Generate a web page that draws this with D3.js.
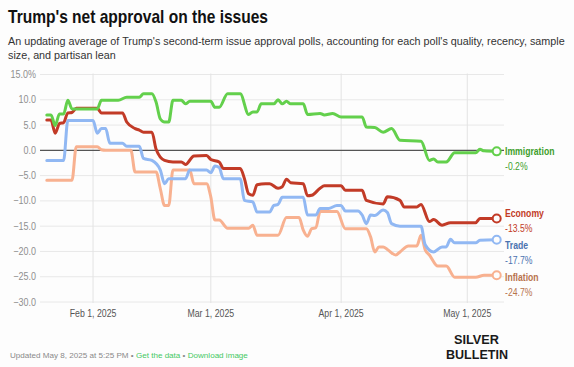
<!DOCTYPE html>
<html>
<head>
<meta charset="utf-8">
<script src="https://cdn.jsdelivr.net/npm/d3@7"></script>
<style>
  html, body { margin: 0; padding: 0; background: #fdfdfd; }
  svg { display: block; }
</style>
</head>
<body>
<svg id="chart" width="574" height="367"></svg>
<script>
// ---------- DATA ----------
const startDate = "2025-01-21"; // day offsets below count from this date
const seriesNames = ["Inflation", "Trade", "Economy", "Immigration"];
const immigration = [[0,7.0],[1,7.0],[2,4.9],[3,7.2],[4,7.2],[5,9.9],[6,8.2],[12,8.2],[13,9.9],[17,9.9],[19,10.5],[22,10.5],[23,11.2],[25,11.2],[26,9.5],[27,6.2],[28,5.6],[29,5.6],[30,9.9],[32,9.9],[33,9.2],[34,9.7],[39,9.7],[40,8.5],[41,8.5],[43,11.2],[46,11.2],[48,7.1],[49,7.6],[50,7.6],[51,9.2],[54,9.2],[55,10.0],[56,9.2],[57,9.7],[58,9.2],[61,9.2],[62,7.1],[65,7.3],[66,7.0],[68,7.3],[70,6.6],[75,6.6],[76,4.6],[78,4.5],[80,3.6],[82,4.3],[84,2.0],[89,1.8],[91,-2.0],[92,-1.7],[93,-2.3],[95,-2.3],[97,-0.5],[102,-0.5],[103,0.2],[104,-0.1],[107,-0.2]];
const economy = [[0,6.0],[1,6.0],[2,3.4],[3,5.3],[4,5.5],[5,7.4],[6,7.5],[7,8.3],[12,8.3],[13,7.4],[18,7.4],[19,5.6],[21,4.3],[22,4.0],[23,3.6],[25,3.6],[26,0.2],[28,-2.0],[30,-2.3],[32,-2.3],[33,-2.8],[35,-1.1],[38,-1.0],[39,-1.8],[41,-2.3],[42,-3.6],[46,-3.6],[47,-5.6],[48,-8.6],[49,-8.9],[50,-6.8],[52,-6.6],[53,-6.6],[55,-7.5],[56,-7.2],[57,-5.7],[58,-6.4],[61,-6.6],[62,-9.0],[63,-8.9],[65,-7.5],[66,-7.0],[70,-7.0],[71,-7.9],[75,-7.9],[76,-9.9],[80,-10.6],[81,-9.2],[84,-9.9],[85,-11.2],[88,-11.2],[89,-10.7],[91,-14.1],[92,-13.7],[94,-14.8],[96,-14.3],[102,-14.3],[103,-13.5],[107,-13.5]];
const trade = [[0,-2.0],[4,-2.0],[5,5.9],[11,5.9],[12,3.4],[13,4.3],[14,4.3],[15,1.4],[18,1.4],[19,0.8],[22,0.8],[23,-1.6],[25,-2.0],[27,-3.9],[28,-6.6],[29,-5.6],[33,-5.6],[34,-3.9],[38,-3.9],[39,-4.4],[40,-3.1],[41,-3.4],[42,-5.6],[46,-5.6],[47,-9.9],[49,-10.2],[50,-12.2],[53,-12.2],[54,-10.9],[55,-10.7],[56,-9.3],[61,-9.3],[62,-12.8],[64,-12.8],[65,-11.5],[67,-11.5],[69,-10.9],[70,-10.9],[71,-12.0],[74,-12.0],[75,-12.8],[76,-14.5],[77,-12.8],[78,-12.9],[80,-11.8],[81,-12.3],[82,-14.5],[84,-15.0],[89,-15.0],[90,-18.7],[92,-20.1],[94,-19.1],[95,-19.1],[96,-17.6],[97,-18.3],[102,-18.3],[103,-17.8],[107,-17.7]];
const inflation = [[0,-5.9],[6,-5.9],[7,0.7],[12,0.7],[13,0.1],[14,0.0],[20,0.0],[21,-4.3],[26,-4.3],[27,-7.6],[28,-10.9],[29,-10.9],[30,-3.9],[34,-3.9],[35,-6.6],[38,-6.6],[39,-9.2],[40,-13.8],[41,-13.8],[43,-15.4],[48,-15.4],[49,-14.8],[50,-16.8],[55,-16.8],[57,-13.3],[60,-13.3],[61,-15.8],[62,-17.0],[63,-15.5],[64,-15.3],[65,-12.1],[69,-12.1],[71,-15.5],[76,-15.5],[77,-17.1],[78,-20.1],[79,-19.1],[80,-19.1],[81,-19.6],[83,-20.7],[84,-20.1],[86,-18.9],[88,-18.9],[89,-16.8],[90,-19.7],[91,-20.7],[93,-22.9],[95,-22.9],[97,-25.1],[102,-25.1],[104,-24.7],[107,-24.7]];
const latestValues = ["-24.7%", "-17.7%", "-13.5%", "-0.2%"];
const yTicks = [15, 10, 5, 0, -5, -10, -15, -20, -25, -30];
const xTickDates = ["2025-02-01", "2025-03-01", "2025-04-01", "2025-05-01"];
const xTickLabels = ["Feb 1, 2025", "Mar 1, 2025", "Apr 1, 2025", "May 1, 2025"];
const endDate = "2025-05-08";
const footerParts = ["Updated May 8, 2025 at 5:25 PM", " \u2022 ", "Get the data", " \u2022 ", "Download image"];

// ---------- STYLE ----------
const lineColors = ["#f8b190", "#91b8f3", "#c23b27", "#63d04c"];
const labelColors = ["#b8734d", "#4b73b0", "#c23b27", "#3e9f2c"];
const footerColors = ["#8a8a8a", "#8a8a8a", "#45c964", "#8a8a8a", "#45c964"];
const font = "'Liberation Sans', Arial, Helvetica, sans-serif";

// compress text horizontally to mimic the narrow typeface of the original
function condense(sel, f) {
  sel.each(function () {
    const L = this.getComputedTextLength();
    d3.select(this).attr("textLength", L * f).attr("lengthAdjust", "spacingAndGlyphs");
  });
}
function fitWidth(sel, w) {
  sel.attr("textLength", w).attr("lengthAdjust", "spacingAndGlyphs");
}
// pick a font size so that the text's natural width equals w
function fitSize(sel, w) {
  const fs = parseFloat(sel.attr("font-size"));
  const L = sel.node().getComputedTextLength();
  const nfs = fs * w / L;
  sel.attr("font-size", nfs);
  return nfs;
}

const svg = d3.select("#chart");
const W = 574, H = 367;
svg.append("rect").attr("width", W).attr("height", H).attr("fill", "#fdfdfd");

const parse = d3.utcParse("%Y-%m-%d");
const t0 = parse(startDate);
const dayToDate = d => d3.utcDay.offset(t0, d);

const x = d3.scaleUtc().domain([t0, parse(endDate)]).range([46.8, 496.7]);
const y = d3.scaleLinear().domain([-30, 15]).range([302, 74.5]);
const gridLeft = 40, gridRight = 504;

// title & subtitle
const title = svg.append("text").attr("x", 8).attr("y", 23)
  .attr("font-family", font).attr("font-weight", "bold").attr("font-size", 18.5)
  .attr("fill", "#111").text("Trump's net approval on the issues");
fitWidth(title, 260);

const sub1 = svg.append("text").attr("x", 8).attr("y", 45)
  .attr("font-family", font).attr("font-size", 11).attr("fill", "#333")
  .text("An updating average of Trump's second-term issue approval polls, accounting for each poll's quality, recency, sample");
const subSize = fitSize(sub1, 557);
svg.append("text").attr("x", 8).attr("y", 59)
  .attr("font-family", font).attr("font-size", subSize).attr("fill", "#333")
  .text("size, and partisan lean");

// horizontal grid + y labels
const gy = svg.append("g");
gy.selectAll("line").data(yTicks.filter(v => v !== 0)).join("line")
  .attr("x1", gridLeft).attr("x2", gridRight)
  .attr("y1", d => y(d)).attr("y2", d => y(d))
  .attr("stroke", "#e8e8e8").attr("stroke-width", 1);
const yl = gy.selectAll("text").data(yTicks).join("text")
  .attr("x", 36).attr("y", d => y(d)).attr("dy", "0.35em")
  .attr("text-anchor", "end").attr("font-family", font).attr("font-size", 10.3)
  .attr("fill", "#8f8f8f")
  .text((d, i) => (d < 0 ? "\u2212" : "") + Math.abs(d).toFixed(1) + (i === 0 ? "%" : ""));
condense(yl, 0.87);

// vertical grid + x labels
const gx = svg.append("g");
gx.selectAll("line").data(xTickDates).join("line")
  .attr("x1", d => x(parse(d))).attr("x2", d => x(parse(d)))
  .attr("y1", y(15) - 1).attr("y2", y(-30) + 1)
  .attr("stroke", "#e3e3e3").attr("stroke-width", 1);
const xl = gx.selectAll("text").data(xTickDates).join("text")
  .attr("x", d => x(parse(d))).attr("y", 317)
  .attr("text-anchor", "middle").attr("font-family", font).attr("font-size", 10.3)
  .attr("fill", "#555")
  .text((d, i) => xTickLabels[i]);
condense(xl, 0.85);

// zero line
svg.append("line").attr("x1", gridLeft).attr("x2", gridRight)
  .attr("y1", y(0)).attr("y2", y(0)).attr("stroke", "#555").attr("stroke-width", 1.3);

// lines
const allSeries = [inflation, trade, economy, immigration];
const line = d3.line().x(d => x(dayToDate(d[0]))).y(d => y(d[1])).curve(d3.curveMonotoneX);
svg.append("g").selectAll("path").data(allSeries).join("path")
  .attr("d", line).attr("fill", "none")
  .attr("stroke", (d, i) => lineColors[i]).attr("stroke-width", 3)
  .attr("stroke-linejoin", "round").attr("stroke-linecap", "round");

// end markers
svg.append("g").selectAll("circle").data(allSeries).join("circle")
  .attr("cx", d => x(dayToDate(d[d.length - 1][0])))
  .attr("cy", d => y(d[d.length - 1][1]))
  .attr("r", 4).attr("fill", "#fdfdfd")
  .attr("stroke", (d, i) => lineColors[i]).attr("stroke-width", 2);

// end labels with simple collision avoidance
const labels = allSeries.map((s, i) => ({ i, y: y(s[s.length - 1][1]) }));
labels.sort((a, b) => a.y - b.y);
const minGap = 32;
for (let iter = 0; iter < 50; iter++) {
  for (let k = 0; k < labels.length - 1; k++) {
    const gap = labels[k + 1].y - labels[k].y;
    if (gap < minGap) {
      const d = (minGap - gap) / 2;
      labels[k].y -= d; labels[k + 1].y += d;
    }
  }
}
const lg = svg.append("g");
labels.forEach(l => {
  const n = lg.append("text").attr("x", 505).attr("y", l.y + 4)
    .attr("font-family", font).attr("font-size", 10.8).attr("font-weight", "bold")
    .attr("fill", labelColors[l.i]).text(seriesNames[l.i]);
  condense(n, 0.8);
  const v = lg.append("text").attr("x", 505).attr("y", l.y + 19)
    .attr("font-family", font).attr("font-size", 10.8)
    .attr("fill", labelColors[l.i]).text(latestValues[l.i]);
  condense(v, 0.8);
});

// footer: one text, coloured tspans, sized to the original width
const ft = svg.append("text").attr("x", 10).attr("y", 358)
  .attr("font-family", font).attr("font-size", 9.5);
footerParts.forEach((t, i) => ft.append("tspan").attr("fill", footerColors[i]).text(t));
fitSize(ft, 238);

const l1 = svg.append("text").attr("x", 454).attr("y", 343.5).attr("font-family", font)
  .attr("font-weight", "bold").attr("font-size", 13.5).attr("fill", "#1a1a1a").text("SILVER");
fitWidth(l1, 45);
const l2 = svg.append("text").attr("x", 446).attr("y", 359).attr("font-family", font)
  .attr("font-weight", "bold").attr("font-size", 13.5).attr("fill", "#1a1a1a").text("BULLETIN");
fitWidth(l2, 62);
</script>
</body>
</html>
